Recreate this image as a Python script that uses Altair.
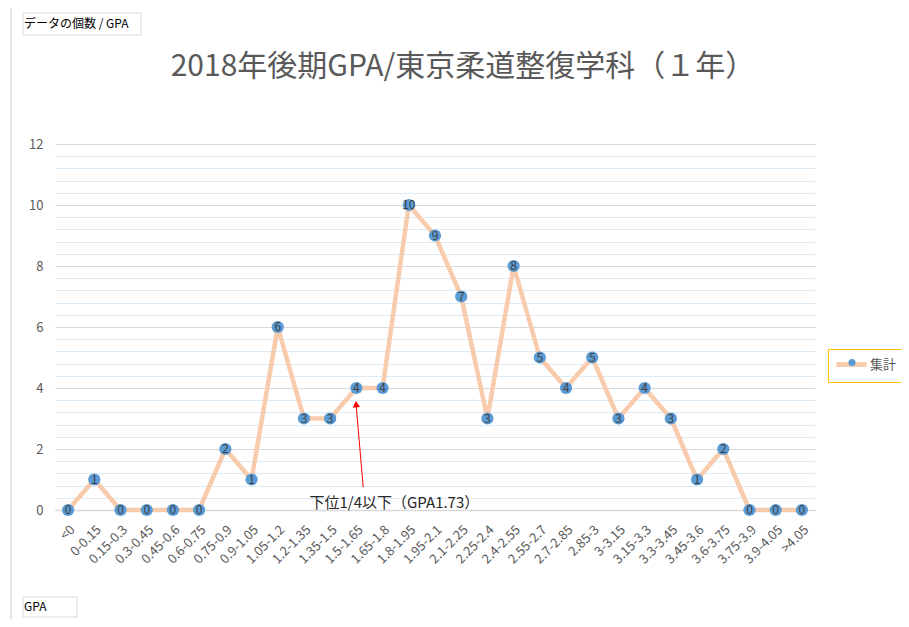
import altair as alt
import pandas as pd

cats = ["<0", "0-0.15", "0.15-0.3", "0.3-0.45", "0.45-0.6", "0.6-0.75", "0.75-0.9",
        "0.9-1.05", "1.05-1.2", "1.2-1.35", "1.35-1.5", "1.5-1.65", "1.65-1.8",
        "1.8-1.95", "1.95-2.1", "2.1-2.25", "2.25-2.4", "2.4-2.55", "2.55-2.7",
        "2.7-2.85", "2.85-3", "3-3.15", "3.15-3.3", "3.3-3.45", "3.45-3.6",
        "3.6-3.75", "3.75-3.9", "3.9-4.05", ">4.05"]
counts = [0, 1, 0, 0, 0, 0, 2, 1, 6, 3, 3, 4, 4, 10, 9, 7, 3, 8, 5, 4, 5, 3, 4, 3, 1, 2, 0, 0, 0]
series_name = "集計"
y_ticks = [0, 0.4, 0.8, 1.2, 1.6, 2, 2.4, 2.8, 3.2, 3.6, 4, 4.4, 4.8, 5.2, 5.6, 6,
           6.4, 6.8, 7.2, 7.6, 8, 8.4, 8.8, 9.2, 9.6, 10, 10.4, 10.8, 11.2, 11.6, 12]
title_text = "2018年後期GPA/東京柔道整復学科（１年）"
note_text = "下位1/4以下（GPA1.73）"
field_label_top = "データの個数 / GPA"
field_label_bottom = "GPA"

# annotation (index positions along the category axis, value positions on y)
arrow_x = [11.26]
arrow_x2 = [10.99]
arrow_y = [0.75]
arrow_y2 = [3.45]
head_y = [3.47]
note_x = [12.45]
note_y = [0.23]

FONT = "Noto Sans CJK JP"

df = pd.DataFrame({"cat": cats, "count": counts, "series": series_name})

xenc = alt.X("cat:N", sort=cats, scale=alt.Scale(type="point", padding=0.5),
             axis=alt.Axis(title=None, labelAngle=-45, labelFontSize=13, labelColor="#595959",
                           ticks=False, grid=False, domainColor="#D9D9D9", domainWidth=1.5,
                           labelPadding=13))
yenc = alt.Y("count:Q", scale=alt.Scale(domain=[0, 12], nice=False),
             axis=alt.Axis(title=None, values=y_ticks, domain=False, ticks=False,
                           labelExpr="datum.value % 2 == 0 ? format(datum.value, 'd') : ''",
                           labelFontSize=13, labelColor="#595959", labelPadding=12,
                           labelOverlap=False,
                           gridColor={"condition": {"test": "datum.value % 2 == 0", "value": "#D9D9D9"},
                                      "value": "#DDEBF7"},
                           gridWidth=1))

line = alt.Chart(df).mark_line(strokeWidth=4.5, strokeJoin="round", strokeCap="round").encode(
    x=xenc, y=yenc,
    stroke=alt.Stroke("series:N", scale=alt.Scale(range=["#F8CBAD"]),
                      legend=alt.Legend(title=None, orient="none", legendX=773, legendY=205,
                                        symbolType="M-2.5,0H2.5", symbolSize=144,
                                        symbolStrokeWidth=5, symbolOffset=8,
                                        strokeColor="#FFC000", padding=7,
                                        labelFontSize=13, labelColor="#595959",
                                        labelOffset=10, zindex=0))
)
points = alt.Chart(df).mark_circle(size=150, opacity=1).encode(
    x=xenc, y=yenc,
    fill=alt.Fill("series:N", scale=alt.Scale(range=["#5B9BD5"]),
                  legend=alt.Legend(title=None, orient="none", legendX=773, legendY=205,
                                    symbolSize=50, symbolStrokeWidth=0, symbolOffset=10.5,
                                    padding=7, labelFontSize=13, labelOpacity=0, zindex=1))
)
labels = alt.Chart(df).mark_text(fontSize=12, color="#404040", baseline="middle").encode(
    x=xenc, y=yenc, text="count:Q"
)
main = alt.layer(line, points, labels)

ann_df = pd.DataFrame({"x": arrow_x, "x2": arrow_x2, "y": arrow_y, "y2": arrow_y2,
                       "hy": head_y, "nx": note_x, "ny": note_y, "note": [note_text]})
ax = alt.Scale(domain=[-0.5, 28.5], nice=False, zero=False)
ay = alt.Scale(domain=[0, 12], nice=False)
ann = alt.Chart(ann_df)
arrow = ann.mark_rule(color="#FF0000", strokeWidth=1).encode(
    x=alt.X("x:Q", scale=ax, axis=None), x2="x2:Q",
    y=alt.Y("y:Q", scale=ay, axis=None), y2="y2:Q")
head = ann.mark_point(shape="triangle-up", filled=True, size=55, angle=355, color="#FF0000",
                      opacity=1).encode(
    x=alt.X("x2:Q", scale=ax, axis=None), y=alt.Y("hy:Q", scale=ay, axis=None))
note = ann.mark_text(fontSize=15, color="#262626", baseline="middle").encode(
    x=alt.X("nx:Q", scale=ax, axis=None), y=alt.Y("ny:Q", scale=ay, axis=None), text="note:N")

deco_df = pd.DataFrame({"t1": [field_label_top], "t2": [field_label_bottom], "title": [title_text]})
deco = alt.Chart(deco_df)
frame_left = deco.mark_rule(color="#D9D9D9", strokeWidth=1.5).encode(
    x=alt.value(-44), y=alt.value(-136), y2=alt.value(475))
box1 = deco.mark_rect(fill="white", stroke="#D9D9D9", strokeWidth=1).encode(
    x=alt.value(-32), x2=alt.value(86), y=alt.value(-131), y2=alt.value(-109))
txt1 = deco.mark_text(align="left", baseline="middle", fontSize=12, color="#000000").encode(
    x=alt.value(-31), y=alt.value(-120), text="t1:N")
box2 = deco.mark_rect(fill="white", stroke="#D9D9D9", strokeWidth=1).encode(
    x=alt.value(-32), x2=alt.value(22), y=alt.value(453), y2=alt.value(473))
txt2 = deco.mark_text(align="left", baseline="middle", fontSize=12, color="#000000").encode(
    x=alt.value(-31), y=alt.value(463), text="t2:N")
title = deco.mark_text(align="center", baseline="middle", fontSize=30, color="#595959").encode(
    x=alt.value(408), y=alt.value(-77), text="title:N")

annot = alt.layer(arrow, head, note, frame_left, box1, txt1, box2, txt2, title)

chart = alt.layer(main, annot).resolve_scale(
    x="independent", y="independent", stroke="independent", fill="independent"
).properties(
    width=760, height=366,
    autosize=alt.AutoSizeParams(type="none"),
    padding={"left": 47, "top": 136, "right": 86, "bottom": 109},
).configure(font=FONT).configure_view(stroke=None)

chart.save("out.html", embed_options={"renderer": "svg", "actions": False})
